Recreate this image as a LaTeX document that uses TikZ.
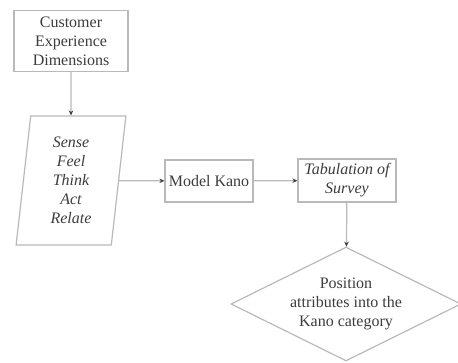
\documentclass[tikz,border=0pt]{standalone}
\usepackage{fontspec}
\setmainfont{Liberation Serif}
\usetikzlibrary{shapes.geometric,arrows.meta}
\definecolor{lineg}{RGB}{185,185,185}
\definecolor{textg}{RGB}{60,60,60}

\begin{document}
\begin{tikzpicture}[x=1pt,y=-1pt,
  box/.style={draw=lineg, line width=1.2pt, text=textg, align=center, inner sep=1pt,
    font=\fontsize{16}{19}\selectfont},
  arr/.style={draw=lineg, line width=1.2pt, -{Stealth[length=5pt,width=4.5pt,color=textg]}}]
\useasboundingbox (0,0) rectangle (458,362);

% Customer experience
\node[box, minimum width=114pt, minimum height=61pt] (dims) at (71,41) {Customer\\Experience\\Dimensions};

% Dimensions list
\node[box, trapezium, trapezium left angle=85, trapezium right angle=95, trapezium stretches=true,
  minimum width=110pt, minimum height=129pt, font=\fontsize{16}{19}\itshape] (sense) at (71,180.5)
  {Sense\\Feel\\Think\\Act\\Relate};
\draw[arr] (dims) -- (sense);

% Kano model
\node[box, minimum width=88pt, minimum height=42pt] (kano) at (209,181) {Model Kano};
\draw[arr] (sense) -- (kano);

% Tabulation
\node[box, minimum width=98pt, minimum height=43pt, font=\fontsize{16}{19}\itshape] (tab) at (347,180.5)
  {Tabulation of\\Survey};
\draw[arr] (kano) -- (tab);

% Kano category
\node[box, diamond, aspect=2, inner sep=0pt, minimum width=230pt, minimum height=114pt] (pos) at (346,304)
  {Position\\attributes into the\\Kano category};
\draw[arr] (tab) -- (pos);
\end{tikzpicture}
\end{document}
